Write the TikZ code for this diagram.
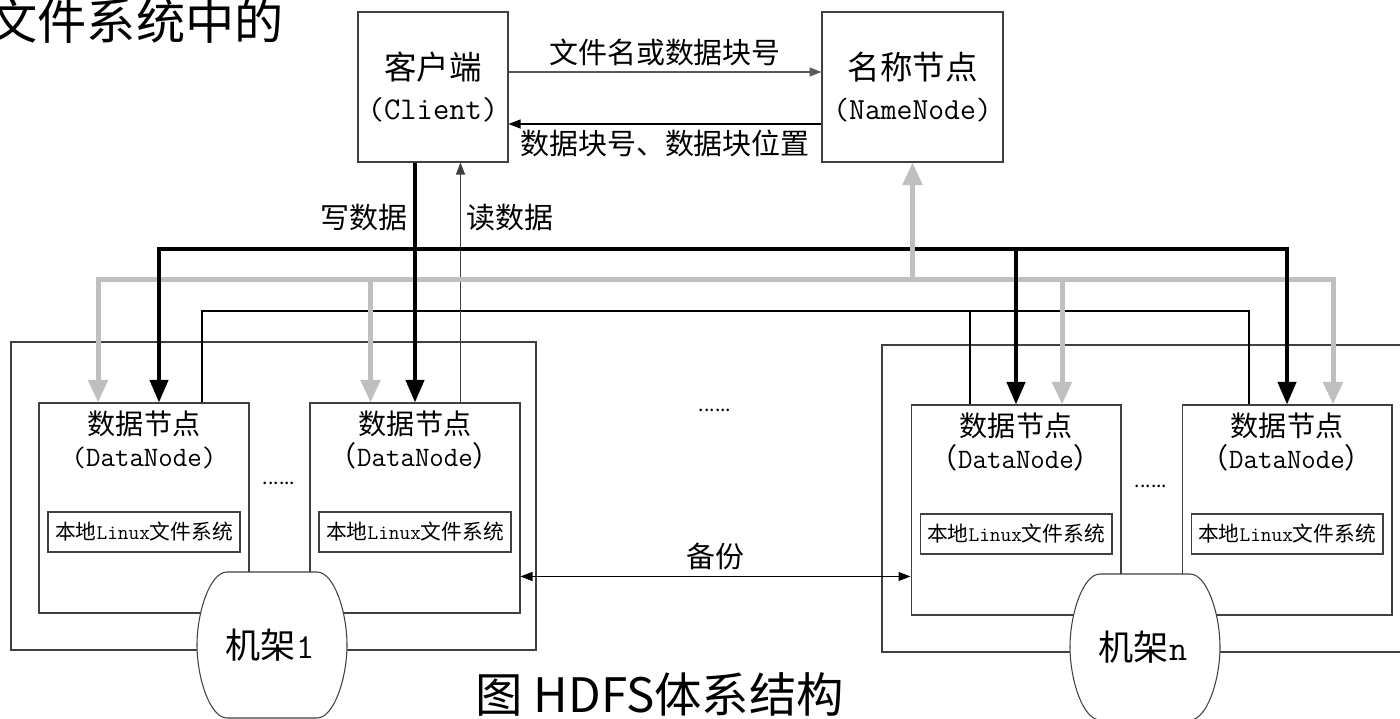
\documentclass[tikz,border=0pt]{standalone}
\usepackage{fontspec}
\setmainfont{Noto Sans CJK SC}
\usetikzlibrary{positioning, arrows.meta, calc}
\definecolor{busgray}{RGB}{191,191,191}
\definecolor{edgegray}{RGB}{64,64,64}
\newcommand{\dnfont}{\ttfamily\fontsize{16}{19}\selectfont}
\tikzset{
  main box/.style={draw=edgegray, line width=0.6pt, minimum height=3cm, align=center, inner sep=0pt, font=\fontsize{18.5}{23}\selectfont},
  data box/.style={draw=edgegray, line width=0.6pt, minimum width=4.2cm, minimum height=4.2cm, inner sep=0pt},
  data text/.style={align=center, inner sep=0pt, font=\fontsize{16}{18.5}\selectfont},
  fs box/.style={draw=edgegray, line width=0.6pt, minimum width=3.84cm, minimum height=0.8cm, inner sep=0pt, font=\fontsize{11.8}{14}\selectfont},
  rack frame/.style={draw=edgegray, line width=0.6pt},
  lbl/.style={font=\fontsize{16.5}{20}\selectfont},
  dots/.style={font=\fontsize{11}{13}\selectfont, inner sep=0pt},
  thin arrow/.style={line width=0.6pt, >={Triangle[length=0.24cm, width=0.18cm]}},
  black bus/.style={line width=0.08cm, >={Triangle[length=0.45cm, width=0.36cm]}},
  gray bus/.style={busgray, line width=0.1cm, >={Triangle[length=0.45cm, width=0.38cm]}},
  rack/.pic={
    \draw[edgegray, line width=0.6pt, fill=white]
      (-45,-73) -- (45,-73) .. controls (62,-73) and (75,-33) .. (75,0)
      .. controls (75,33) and (62,73) .. (45,73) -- (-45,73)
      .. controls (-62,73) and (-75,33) .. (-75,0)
      .. controls (-75,-33) and (-62,-73) .. (-45,-73) -- cycle;
  },
}
\begin{document}
\begin{tikzpicture}[x=0.02cm, y=-0.02cm]
  \useasboundingbox (0,0) rectangle (1400,719);
  % Heading and caption
  \node[anchor=east, inner sep=0pt, font=\fontsize{28}{32}\selectfont] (head) at (284,21) {文件系统中的};
  \node[font=\fontsize{27}{31}\selectfont] (cap) at (660,694) {图 HDFS体系结构};
  % Client and NameNode
  \node[main box, minimum width=3cm] (client) at (433,87) {客户端\\{\ttfamily\fontsize{18}{23}\selectfont (Client)}};
  \node[main box, minimum width=3.62cm] (name) at (912.5,87) {名称节点\\{\ttfamily\fontsize{17.5}{23}\selectfont (NameNode)}};
  % Racks
  \draw[rack frame] (11,342) rectangle (536,650);
  \draw[rack frame] (882,345) rectangle (1420,652);
  % Data nodes
  \node[data box] (dn1) at (144,508) {};
  \node[data box] [right = 1.2cm of dn1] (dn2) {};
  \node[data box] (dn3) at (1016,510) {};
  \node[data box] [right = 1.2cm of dn3] (dn4) {};
  \foreach \d/\sub in {dn1/{\dnfont(DataNode)}, dn2/{（{\dnfont DataNode}）}, dn3/{（{\dnfont DataNode}）}, dn4/{（{\dnfont DataNode}）}} {
    \node[data text, below = 0.16cm of \d.north] (\d-txt) {数据节点\\\sub};
    \node[fs box] (\d-fs) at ([yshift=-0.48cm]\d.center) {本地{\ttfamily Linux}文件系统};
  }
  \pic at (272,645) {rack};
  \node[font=\fontsize{20}{24}\selectfont] (rack1) at (270,645) {机架{\ttfamily 1}};
  \pic at (1145,647) {rack};
  \node[font=\fontsize{20}{24}\selectfont] (rackn) at (1143,647) {机架{\ttfamily n}};
  \node[dots] (dots1) at (279,483) {......};
  \node[dots] (dots2) at (715,410) {......};
  \node[dots] (dots3) at (1151,486) {......};
  % Client <-> NameNode
  \draw[thin arrow, ->, draw=black!65] ([yshift=0.3cm]client.east) -- ([yshift=0.3cm]name.west)
    node[lbl, midway, above] {文件名或数据块号};
  \draw[thin arrow, ->] ([yshift=-0.74cm]name.west) -- ([yshift=-0.74cm]client.east)
    node[lbl, midway, below] {数据块号、数据块位置};
  % Bus lines
  \coordinate (bbus) at (0,249);
  \coordinate (gbus) at (0,280);
  \coordinate (tbus) at (0,311);
  \coordinate (g1) at ([xshift=-0.92cm]dn1.north);
  \coordinate (b1) at ([xshift=0.3cm]dn1.north);
  \coordinate (t1) at ([xshift=1.16cm]dn1.north);
  \coordinate (g2) at ([xshift=-0.89cm]dn2.north);
  \coordinate (r2) at ([xshift=0.91cm]dn2.north);
  \coordinate (t3) at ([xshift=-0.92cm]dn3.north);
  \coordinate (g3) at ([xshift=0.92cm]dn3.north);
  \coordinate (t4) at ([xshift=-0.76cm]dn4.north);
  \coordinate (g4) at ([xshift=0.92cm]dn4.north);
  \draw[line width=0.6pt] (t1) -- (t1 |- tbus) -- (t4 |- tbus) -- (t4);
  \draw[line width=0.6pt] (t3 |- tbus) -- (t3);
  \draw[thin arrow, ->, draw=black!75] (r2) -- (r2 |- client.south) node[lbl, pos=0.77, right] {读数据};
  \draw[gray bus, <->] (g1) -- (g1 |- gbus) -- (g4 |- gbus) -- (g4);
  \draw[gray bus, ->] (g2 |- gbus) -- (g2);
  \draw[gray bus, ->] (g3 |- gbus) -- (g3);
  \draw[black bus, <->] (b1) -- (b1 |- bbus) -- (dn4.north |- bbus) -- (dn4.north);
  \draw[black bus, ->] (dn3.north |- bbus) -- (dn3.north);
  \draw[black bus, ->] (client.south -| dn2.north) -- (dn2.north) node[lbl, pos=0.23, left] {写数据};
  \draw[gray bus, ->] (name.south |- gbus) -- (name.south);
  % Backup
  \draw[thin arrow, <->] ([yshift=-1.37cm]dn2.east) coordinate (bk) -- (bk -| dn3.west)
    node[lbl, midway, above] {备份};
\end{tikzpicture}
\end{document}
